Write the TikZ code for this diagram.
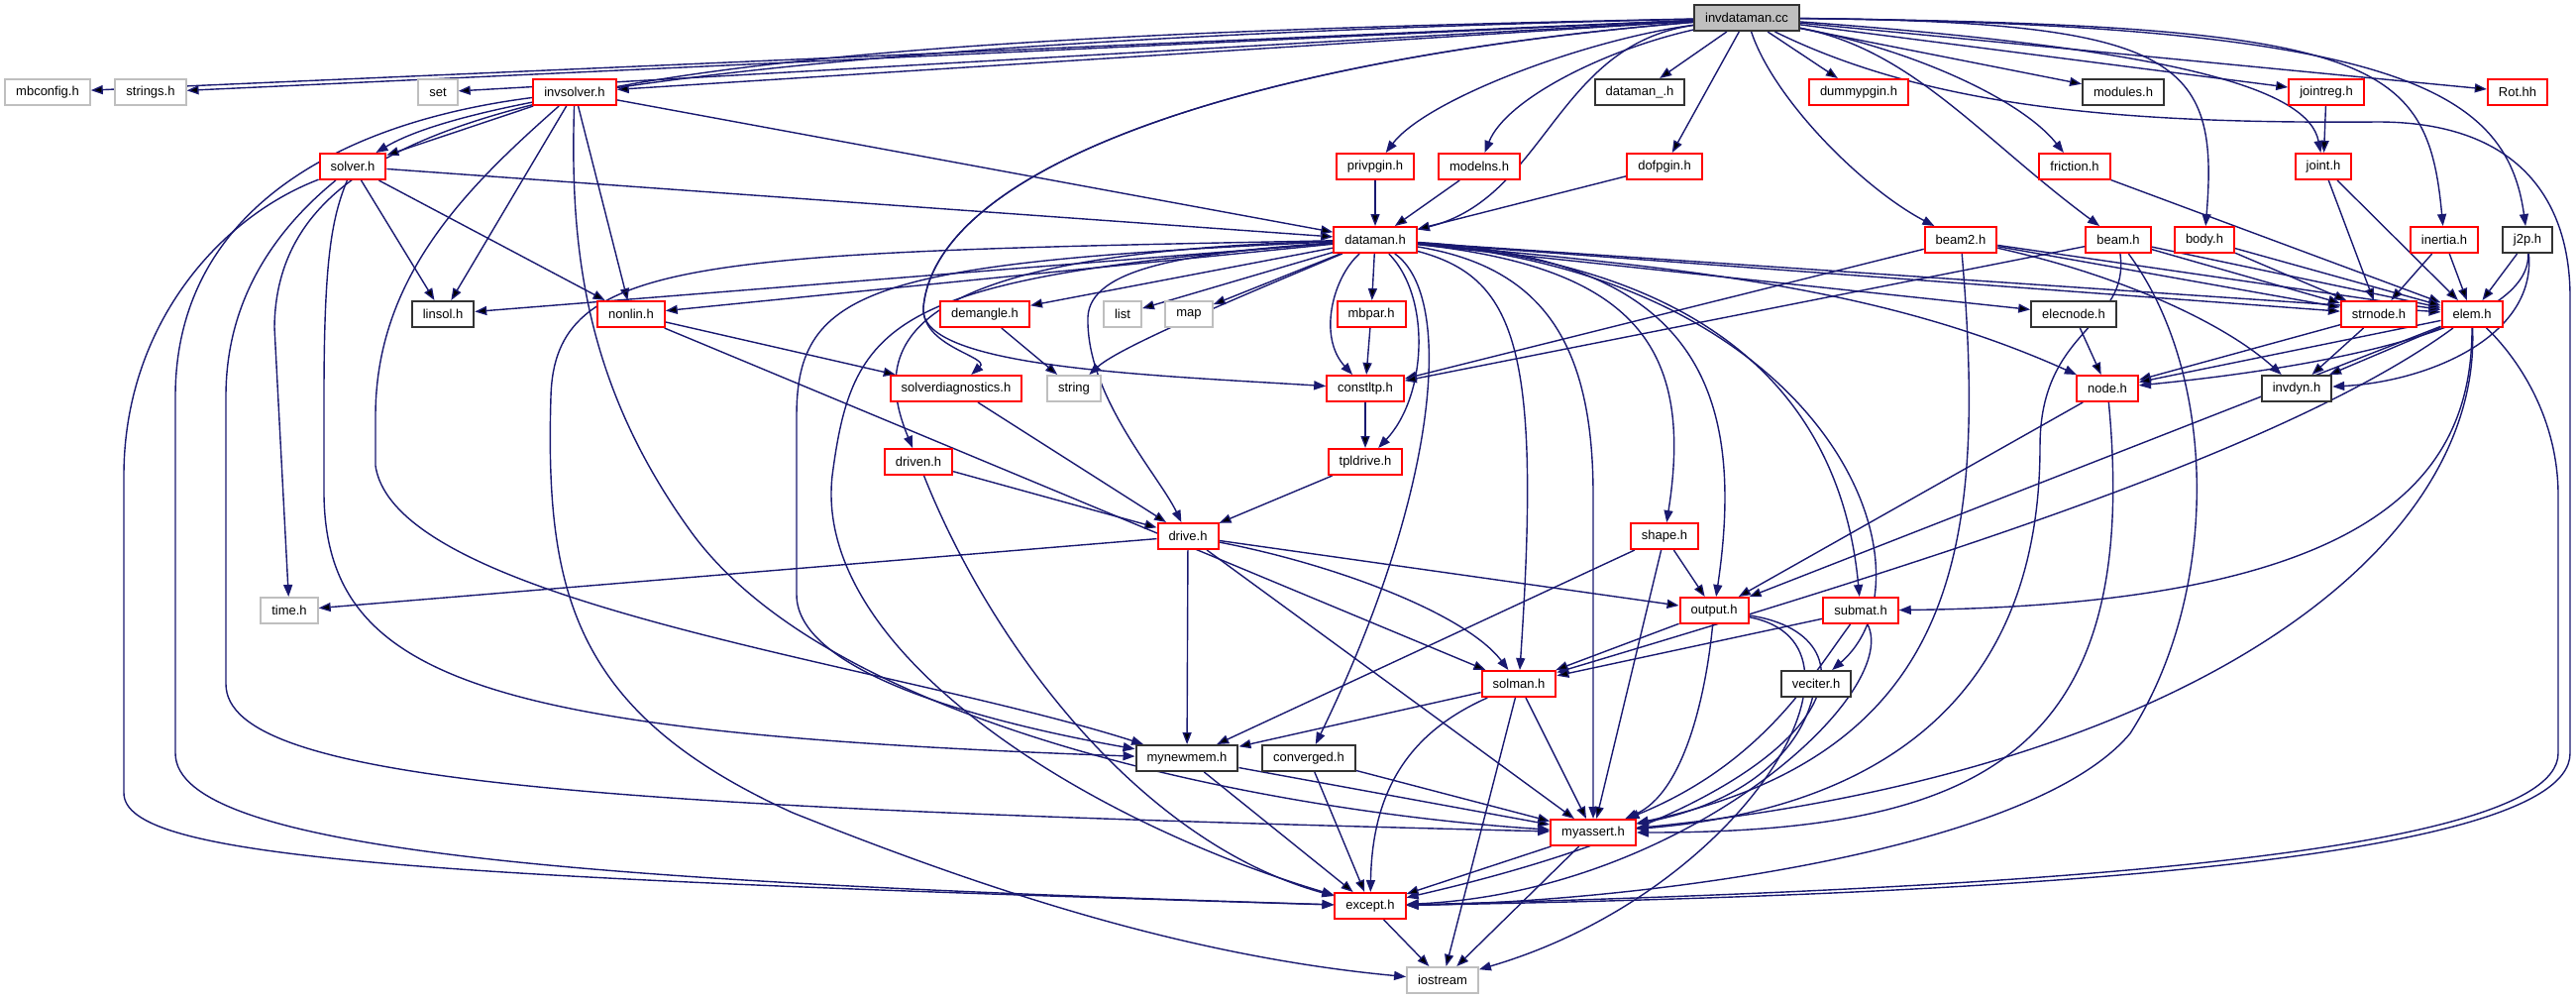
\documentclass[tikz,border=0pt]{standalone}
\usepackage{fontspec}
\setmainfont{Liberation Sans}
\usetikzlibrary{arrows.meta,backgrounds}
\definecolor{edgeblue}{HTML}{191970}
\definecolor{hdrred}{HTML}{FF0000}
\definecolor{sysgray}{HTML}{BFBFBF}

\begin{document}
\begin{tikzpicture}[x=0.5pt,y=-0.5pt,
    file/.style={draw,fill=white,line width=1pt,minimum height=13pt,inner xsep=5.5pt,inner ysep=0pt,font=\fontsize{6.5}{7}\selectfont},
    redfile/.style={file,draw=hdrred},
    blackfile/.style={file,draw=black!80},
    sysfile/.style={file,draw=sysgray},
    rootfile/.style={file,draw=black!80,fill=sysgray},
    inc/.style={draw=edgeblue,line width=0.7pt,-{Triangle[length=6pt,width=4.5pt]}}]
  \useasboundingbox (0,0) rectangle (2600,1008);

  \draw (1763,18) node[rootfile] (invdataman) {invdataman.cc};
  \draw (48,93) node[sysfile] (mbconfig) {mbconfig.h};
  \draw (152,93) node[sysfile] (strings) {strings.h};
  \draw (442,93) node[sysfile] (set) {set};
  \draw (580,93) node[redfile] (invsolver) {invsolver.h};
  \draw (1655,93) node[blackfile] (datamanu) {dataman\_.h};
  \draw (1876,93) node[redfile] (dummypgin) {dummypgin.h};
  \draw (2143,93) node[blackfile] (modules) {modules.h};
  \draw (2348,93) node[redfile] (jointreg) {jointreg.h};
  \draw (2541,93) node[redfile] (rot) {Rot.hh};
  \draw (356,168) node[redfile] (solver) {solver.h};
  \draw (1388,168) node[redfile] (privpgin) {privpgin.h};
  \draw (1493,168) node[redfile] (modelns) {modelns.h};
  \draw (1680,168) node[redfile] (dofpgin) {dofpgin.h};
  \draw (2094,168) node[redfile] (friction) {friction.h};
  \draw (2345,168) node[redfile] (joint) {joint.h};
  \draw (1388,242) node[redfile] (dataman) {dataman.h};
  \draw (1979,242) node[redfile] (beamtwo) {beam2.h};
  \draw (2138,242) node[redfile] (beam) {beam.h};
  \draw (2225,242) node[redfile] (body) {body.h};
  \draw (2467,242) node[redfile] (inertia) {inertia.h};
  \draw (2551,242) node[blackfile] (jtwop) {j2p.h};
  \draw (447,317) node[blackfile] (linsol) {linsol.h};
  \draw (637,317) node[redfile] (nonlin) {nonlin.h};
  \draw (994,317) node[redfile] (demangle) {demangle.h};
  \draw (1133,317) node[sysfile] (list) {list};
  \draw (1200,317) node[sysfile] (map) {map};
  \draw (1384,317) node[redfile] (mbpar) {mbpar.h};
  \draw (2093,317) node[blackfile] (elecnode) {elecnode.h};
  \draw (2401,317) node[redfile] (strnode) {strnode.h};
  \draw (2495,317) node[redfile] (elem) {elem.h};
  \draw (965,392) node[redfile] (solverdiag) {solverdiagnostics.h};
  \draw (1084,392) node[sysfile] (string) {string};
  \draw (1378,392) node[redfile] (constltp) {constltp.h};
  \draw (2127,392) node[redfile] (nodeh) {node.h};
  \draw (2318,392) node[blackfile] (invdyn) {invdyn.h};
  \draw (927,466) node[redfile] (driven) {driven.h};
  \draw (1378,466) node[redfile] (tpldrive) {tpldrive.h};
  \draw (1199,541) node[redfile] (drive) {drive.h};
  \draw (1680,541) node[redfile] (shape) {shape.h};
  \draw (292,616) node[sysfile] (timeh) {time.h};
  \draw (1730,616) node[redfile] (output) {output.h};
  \draw (1878,616) node[redfile] (submat) {submat.h};
  \draw (1533,690) node[redfile] (solman) {solman.h};
  \draw (1833,690) node[blackfile] (veciter) {veciter.h};
  \draw (1198,765) node[blackfile] (mynewmem) {mynewmem.h};
  \draw (1321,765) node[blackfile] (converged) {converged.h};
  \draw (1608,840) node[redfile] (myassert) {myassert.h};
  \draw (1383,914) node[redfile] (except) {except.h};
  \draw (1456,989) node[sysfile] (iostream) {iostream};

  \begin{pgfonlayer}{background}
  % includes of the source file
  \path[inc] (invdataman) edge (mbconfig);
  \path[inc] (invdataman) edge (strings);
  \path[inc] (invdataman) edge (set);
  \path[inc] (invdataman) edge (invsolver);
  \draw[inc] (invdataman) .. controls (800,40) and (470,100) .. (solver);
  \draw[inc] (invdataman) .. controls (650,40) and (280,90) .. (277,330) -- (timeh);
  \path[inc] (invdataman) edge (datamanu);
  \draw[inc] (invdataman) .. controls (1600,40) and (1440,100) .. (privpgin);
  \draw[inc] (invdataman) .. controls (1620,50) and (1520,100) .. (modelns);
  \path[inc] (invdataman) edge (dofpgin);
  \draw[inc] (invdataman) .. controls (1570,45) and (1560,200) .. (dataman);
  \draw[inc] (invdataman) .. controls (1250,60) and (945,170) .. (932,310) .. controls (925,370) and (1150,378) .. (constltp);
  \draw[inc] (invdataman) .. controls (1250,60) and (945,170) .. (932,310) .. controls (930,350) and (1000,360) .. (solverdiag);
  \path[inc] (invdataman) edge (dummypgin);
  \path[inc] (invdataman) edge (modules);
  \path[inc] (invdataman) edge (jointreg);
  \path[inc] (invdataman) edge (rot);
  \draw[inc] (invdataman) .. controls (1790,100) and (1880,190) .. (beamtwo);
  \draw[inc] (invdataman) .. controls (1930,50) and (2000,140) .. (beam);
  \draw[inc] (invdataman) .. controls (1930,50) and (2040,100) .. (friction);
  \draw[inc] (invdataman) .. controls (2200,22) and (2240,60) .. (body);
  \draw[inc] (invdataman) .. controls (2200,50) and (2330,90) .. (joint);
  \draw[inc] (invdataman) .. controls (2400,25) and (2450,60) .. (inertia);
  \draw[inc] (invdataman) .. controls (2420,25) and (2530,90) .. (jtwop);
  \draw[inc] (invdataman) .. controls (1950,110) and (2150,125) .. (2400,123) .. controls (2540,123) and (2594,200) .. (2594,300) -- (2594,760) .. controls (2594,880) and (1900,905) .. (except);

  % invsolver.h and solver.h
  \path[inc] (invsolver) edge (solver);
  \path[inc] (invsolver) edge (dataman);
  \path[inc] (invsolver) edge (linsol);
  \path[inc] (invsolver) edge (nonlin);
  \draw[inc] (invsolver) .. controls (330,125) and (177,220) .. (177,400) -- (177,760) .. controls (177,860) and (600,890) .. (except);
  \draw[inc] (invsolver) .. controls (470,190) and (379,280) .. (379,420) -- (379,470) .. controls (400,610) and (900,670) .. (mynewmem);
  \draw[inc] (invsolver) .. controls (575,250) and (590,390) .. (700,540) .. controls (850,740) and (1300,820) .. (myassert);
  \path[inc] (solver) edge (dataman);
  \path[inc] (solver) edge (linsol);
  \path[inc] (solver) edge (nonlin);
  \draw[inc] (solver) .. controls (220,220) and (125,330) .. (125,480) -- (125,800) .. controls (125,865) and (400,885) .. (except);
  \draw[inc] (solver) .. controls (280,230) and (228,300) .. (228,400) -- (228,690) .. controls (228,790) and (600,815) .. (myassert);
  \draw[inc] (solver) .. controls (335,220) and (327,260) .. (327,400) -- (327,500) .. controls (330,690) and (500,740) .. (mynewmem);

  \path[inc] (privpgin) edge (dataman);
  \path[inc] (modelns) edge (dataman);
  \path[inc] (dofpgin) edge (dataman);
  \path[inc] (jointreg) edge (joint);

  % dataman.h
  \path[inc] (dataman) edge (linsol);
  \path[inc] (dataman) edge (nonlin);
  \path[inc] (dataman) edge (demangle);
  \path[inc] (dataman) edge (list);
  \path[inc] (dataman) edge (map);
  \path[inc] (dataman) edge (mbpar);
  \draw[inc] (dataman) .. controls (1250,300) and (1130,350) .. (string);
  \draw[inc] (dataman) .. controls (1345,280) and (1330,340) .. (constltp);
  \draw[inc] (dataman) .. controls (1445,300) and (1440,400) .. (tpldrive);
  \draw[inc] (dataman) .. controls (1200,255) and (1100,270) .. (1098,320) .. controls (1096,400) and (1170,480) .. (drive);
  \draw[inc] (dataman) .. controls (940,255) and (870,330) .. (driven);
  \draw[inc] (dataman) .. controls (700,255) and (560,260) .. (556,400) .. controls (550,600) and (580,720) .. (800,820) .. controls (1000,900) and (1200,965) .. (iostream);
  \draw[inc] (dataman) .. controls (880,265) and (804,290) .. (804,420) -- (804,600) .. controls (804,680) and (1000,730) .. (mynewmem);
  \draw[inc] (dataman) .. controls (900,280) and (861,320) .. (840,480) .. controls (820,660) and (1100,830) .. (except);
  \draw[inc] (dataman) .. controls (1470,300) and (1450,500) .. (converged);
  \draw[inc] (dataman) .. controls (1530,280) and (1556,350) .. (solman);
  \draw[inc] (dataman) .. controls (1560,270) and (1608,350) .. (1608,500) -- (myassert);
  \draw[inc] (dataman) .. controls (1650,270) and (1710,350) .. (shape);
  \draw[inc] (dataman) .. controls (1700,260) and (1765,380) .. (output);
  \draw[inc] (dataman) .. controls (1750,270) and (1860,420) .. (submat);
  \draw[inc] (dataman) .. controls (1850,280) and (1960,580) .. (veciter);
  \path[inc] (dataman) edge (elecnode);
  \path[inc] (dataman) edge (strnode);
  \path[inc] (dataman) edge (elem);
  \draw[inc] (dataman) .. controls (1700,270) and (1900,290) .. (nodeh);

  % left middle
  \path[inc] (nonlin) edge (solverdiag);
  \path[inc] (nonlin) edge (solman);
  \path[inc] (demangle) edge (string);
  \path[inc] (mbpar) edge (constltp);
  \path[inc] (constltp) edge (tpldrive);
  \path[inc] (solverdiag) edge (drive);
  \path[inc] (driven) edge (drive);
  \path[inc] (tpldrive) edge (drive);
  \draw[inc] (driven) .. controls (1000,650) and (1150,850) .. (except);
  \path[inc] (drive) edge (timeh);
  \path[inc] (drive) edge (output);
  \path[inc] (drive) edge (mynewmem);
  \path[inc] (drive) edge (myassert);
  \draw[inc] (drive) .. controls (1350,570) and (1480,620) .. (solman);

  % right middle
  \path[inc] (friction) edge (elem);
  \path[inc] (joint) edge (strnode);
  \path[inc] (joint) edge (elem);
  \path[inc] (beamtwo) edge (constltp);
  \path[inc] (beamtwo) edge (strnode);
  \path[inc] (beamtwo) edge (elem);
  \draw[inc] (beamtwo) .. controls (2150,280) and (2250,330) .. (invdyn);
  \draw[inc] (beamtwo) .. controls (2005,550) and (1980,760) .. (myassert);
  \path[inc] (beam) edge (constltp);
  \path[inc] (beam) edge (strnode);
  \path[inc] (beam) edge (elem);
  \draw[inc] (beam) .. controls (2150,330) and (2059,330) .. (2059,450) .. controls (2059,740) and (1850,820) .. (myassert);
  \draw[inc] (beam) .. controls (2240,380) and (2240,600) .. (2150,740) .. controls (2050,860) and (1650,910) .. (except);
  \path[inc] (body) edge (strnode);
  \path[inc] (body) edge (elem);
  \path[inc] (inertia) edge (strnode);
  \path[inc] (inertia) edge (elem);
  \path[inc] (jtwop) edge (elem);
  \draw[inc] (jtwop) .. controls (2555,330) and (2350,370) .. (nodeh);
  \draw[inc] (jtwop) .. controls (2560,340) and (2450,385) .. (invdyn);
  \path[inc] (elecnode) edge (nodeh);
  \path[inc] (strnode) edge (nodeh);
  \path[inc] (strnode) edge (invdyn);
  \path[inc] (elem) edge (nodeh);
  \path[inc] (elem) edge (invdyn);
  \path[inc] (elem) edge (output);
  \draw[inc] (elem) .. controls (2300,460) and (1900,580) .. (solman);
  \draw[inc] (elem) .. controls (2495,480) and (2400,610) .. (submat);
  \draw[inc] (elem) .. controls (2505,560) and (2200,780) .. (myassert);
  \draw[inc] (elem) .. controls (2540,360) and (2582,420) .. (2582,500) -- (2582,760) .. controls (2582,875) and (1900,900) .. (except);
  \path[inc] (nodeh) edge (output);
  \draw[inc] (nodeh) .. controls (2162,760) and (2000,840) .. (myassert);

  % bottom
  \path[inc] (shape) edge (output);
  \path[inc] (shape) edge (mynewmem);
  \path[inc] (shape) edge (myassert);
  \path[inc] (output) edge (solman);
  \draw[inc] (output) .. controls (1722,700) and (1700,800) .. (myassert);
  \draw[inc] (output) .. controls (1900,640) and (1880,800) .. (except);
  \draw[inc] (output) .. controls (1910,650) and (1760,900) .. (iostream);
  \path[inc] (submat) edge (solman);
  \draw[inc] (submat) .. controls (1830,680) and (1780,770) .. (myassert);
  \draw[inc] (submat) .. controls (1920,700) and (1700,900) .. (except);
  \draw[inc] (veciter) .. controls (1815,760) and (1760,810) .. (myassert);
  \path[inc] (solman) edge (mynewmem);
  \path[inc] (solman) edge (myassert);
  \draw[inc] (solman) .. controls (1420,740) and (1385,800) .. (except);
  \path[inc] (solman) edge (iostream);
  \path[inc] (mynewmem) edge (myassert);
  \path[inc] (mynewmem) edge (except);
  \path[inc] (converged) edge (myassert);
  \path[inc] (converged) edge (except);
  \path[inc] (myassert) edge (except);
  \path[inc] (myassert) edge (iostream);
  \path[inc] (except) edge (iostream);
  \end{pgfonlayer}
\end{tikzpicture}
\end{document}
